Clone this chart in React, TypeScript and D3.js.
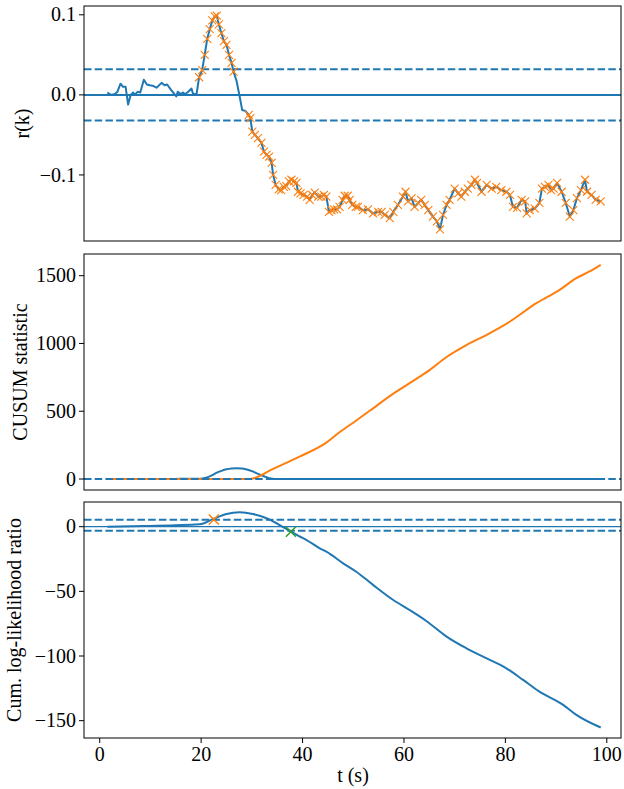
import React from "react";
import * as d3 from "d3";

// r(k) residual autocorrelation
const tR = [1.5, 2.2, 3, 3.5, 4.1, 4.6, 5.1, 5.6, 6.1, 6.6, 6.9, 7.5, 8, 8.7, 9.3, 9.9, 10.6, 11.2, 12.2, 12.8, 13.3, 14.1, 15.1, 15.4, 15.9, 16.4, 16.8, 17.3, 18.1, 18.4, 19.1,
  19.6, 20.2, 20.7, 21.2, 21.7, 22.2, 22.7, 23.1, 23.5, 24.0, 24.5, 25.0, 25.5, 26.0, 26.4, 27.0, 27.6, 28.1, 28.7,
  29.4, 29.7, 30.1, 30.6, 31.2, 31.9, 32.4, 32.9, 33.4, 33.9, 34.2, 34.7, 35.3, 35.8, 36.3, 36.8, 37.3, 37.8, 38.3, 38.8, 39.1, 39.6, 40.2, 40.9, 41.4, 41.9, 42.4, 43.1, 43.7, 44.2, 44.7, 45.2, 45.7, 46.2, 46.8, 47.3, 47.9, 48.3, 48.9, 49.3, 49.8, 50.5,
  50.9, 51.9, 52.9, 53.9, 54.9, 55.6, 56.2, 57.2, 57.9, 58.8, 59.8, 60.3, 60.8, 61.5, 62.1, 62.8, 63.4, 64.1, 64.8, 65.7, 66.5, 67.1, 67.7, 68.4, 69.0, 70.0, 70.7, 71.3, 72.0, 72.6, 73.3, 74.0, 74.4, 75.3, 76.3, 77.3, 78.2, 79.2, 80.2, 80.9, 81.5, 82.3, 83.2, 83.9, 84.2, 84.8, 85.8, 86.7, 87.2, 87.8, 88.5, 89.0, 89.5, 90.2, 91.1, 91.9, 92.7, 93.4, 94.1, 94.9, 95.7, 96.1, 97.0, 97.8, 98.8];
const rVals = [0.003, 0.0, 0.001, 0.004, 0.014, 0.01, 0.01, -0.012, 0.0, 0.003, 0.0, 0.004, 0.003, 0.019, 0.013, 0.012, 0.011, 0.009, 0.015, 0.012, 0.013, 0.006, -0.002, 0.004, 0.001, 0.003, 0.001, 0.003, 0.008, 0.001, 0.001,
  0.022, 0.031, 0.05, 0.07, 0.082, 0.093, 0.098, 0.099, 0.088, 0.077, 0.067, 0.0625, 0.05, 0.04, 0.029, 0.017, -0.002, -0.019, -0.02,
  -0.025, -0.029, -0.046, -0.05, -0.054, -0.06, -0.071, -0.075, -0.077, -0.085, -0.1, -0.1125, -0.118, -0.119, -0.115, -0.114, -0.108, -0.106, -0.108, -0.11, -0.121, -0.123, -0.125, -0.127, -0.131, -0.125, -0.122, -0.127, -0.127, -0.125, -0.127, -0.146, -0.144, -0.143, -0.143, -0.14, -0.131, -0.126, -0.126, -0.131, -0.1375, -0.14,
  -0.14, -0.144, -0.143, -0.148, -0.146, -0.146, -0.15, -0.154, -0.146, -0.1375, -0.127, -0.121, -0.133, -0.129, -0.14, -0.135, -0.131, -0.1375, -0.144, -0.152, -0.158, -0.168, -0.15, -0.1375, -0.131, -0.117, -0.123, -0.127, -0.121, -0.117, -0.1125, -0.106, -0.11, -0.121, -0.1125, -0.117, -0.115, -0.119, -0.121, -0.125, -0.14, -0.141, -0.131, -0.133, -0.148, -0.144, -0.142, -0.135, -0.117, -0.115, -0.1125, -0.119, -0.117, -0.11, -0.121, -0.135, -0.152, -0.144, -0.129, -0.119, -0.106, -0.121, -0.125, -0.131, -0.133];
const rThreshold = 0.032;
const alarmSpans = [[19.5, 26.5], [29.3, 99]];

// CUSUM statistics
const tCusumPos = [1.5, 10, 15, 19.7, 21, 22, 23, 24, 25, 26, 27, 28, 29, 30, 31, 32, 33, 34, 34.5, 60, 98.8];
const cusumPos = [0, 0, 1, 2, 10, 25, 45, 60, 72, 78, 80, 78, 70, 58, 42, 26, 12, 3, 0, 0, 0];
const tCusumNeg = [1.5, 29.6, 34.2, 39.4, 44.7, 47.3, 50.6, 53.3, 57.9, 61.1, 65.1, 68.4, 72.3, 76.3, 80.9, 86.1, 90.7, 94.0, 96.6, 98.8];
const cusumNeg = [0, 0, 75, 165, 268, 345, 432, 505, 630, 707, 805, 900, 988, 1064, 1162, 1297, 1396, 1482, 1531, 1580];

// cumulative log-likelihood ratio
const tLlr = [1.5, 8.9, 19.7, 22.4, 25, 27.6, 30.2, 32.9, 35.5, 37.7, 39.4, 40.8, 43.4, 44.7, 48.0, 50.6, 53.9, 57.9, 61.1, 64.4, 68.4, 72.3, 76.3, 80.2, 83.5, 86.5, 91.4, 94.0, 98.8];
const llr = [0, 0.5, 1.8, 6, 9.8, 11.1, 9.8, 6.5, 1.3, -3.9, -7.5, -10.3, -16.7, -19.3, -28.3, -34.8, -45, -56.7, -64.4, -72.9, -85, -94, -101.8, -109.5, -118.5, -127, -137.8, -145.5, -155.3];
const llrUpper = 5.4;
const llrLower = -3.1;
const llrHits = [{ t: 22.5, v: 5.6, c: "#ff7f0e" }, { t: 37.7, v: -3.9, c: "#2ca02c" }];

const xTicks = [0, 20, 40, 60, 80, 100];
const rTicks = [-0.1, 0, 0.1];
const cusumTicks = [0, 500, 1000, 1500];
const llrTicks = [-150, -100, -50, 0];

const BLUE = "#1f77b4";
const ORANGE = "#ff7f0e";
const FONT = "'Liberation Serif', 'DejaVu Serif', serif";
const FS = 20;
const L = 84, R = 621;

const x = d3.scaleLinear().domain([-3.1, 102.8]).range([L, R]);

const fmtMinus = (s: string) => s.replace("-", "\u2212");

function Cross({ cx, cy, color }: { cx: number; cy: number; color: string }) {
  const s = 4;
  return (
    <path d={`M${cx - s},${cy - s}L${cx + s},${cy + s}M${cx - s},${cy + s}L${cx + s},${cy - s}`}
      stroke={color} strokeWidth={1.1} fill="none" />
  );
}

function YAxis({ y, ticks, fmt, label, labelX }: any) {
  const [b, t] = y.range();
  return (
    <g fontFamily={FONT} fontSize={FS}>
      {ticks.map((v: number) => (
        <g key={v} transform={`translate(${L},${y(v)})`}>
          <line x1={-5} x2={0} stroke="#000" strokeWidth={1} />
          <text x={-8} dy="0.33em" textAnchor="end" fill="#000">{fmt(v)}</text>
        </g>
      ))}
      <text transform={`translate(${labelX},${(b + t) / 2}) rotate(-90)`} textAnchor="middle" fill="#000">{label}</text>
    </g>
  );
}

function Frame({ top, bottom }: { top: number; bottom: number }) {
  return <rect x={L} y={top} width={R - L} height={bottom - top} fill="none" stroke="#000" strokeWidth={1} />;
}

export default function App() {
  // panel 1
  const y1 = d3.scaleLinear().domain([-0.1825, 0.111]).range([241, 6]);
  const rPts = tR.map((t, i) => [t, rVals[i]] as [number, number]);
  const line1 = d3.line<[number, number]>().x((d) => x(d[0])).y((d) => y1(d[1]));
  const marked = rPts.filter(([t]) => alarmSpans.some(([a, b]) => t >= a && t <= b));

  // panel 2
  const y2 = d3.scaleLinear().domain([-81, 1660]).range([490, 254]);
  const pos = d3.line<number>().curve(d3.curveMonotoneX).x((_, i) => x(tCusumPos[i])).y((d) => y2(d))(cusumPos);
  const neg = d3.line<number>().curve(d3.curveMonotoneX).x((_, i) => x(tCusumNeg[i])).y((d) => y2(d))(cusumNeg);

  // panel 3
  const y3 = d3.scaleLinear().domain([-163.4, 19.1]).range([738, 502]);
  const llrPath = d3.line<number>().curve(d3.curveMonotoneX).x((_, i) => x(tLlr[i])).y((d) => y3(d))(llr);

  const dash = "7.5,3.2";

  return (
    <svg width={624} height={789} style={{ position: "absolute", left: 0, top: 0, background: "#fff" }}>
      {/* panel 1 */}
      <g>
        <line x1={L} x2={R} y1={y1(0)} y2={y1(0)} stroke={BLUE} strokeWidth={2} />
        <line x1={L} x2={R} y1={y1(rThreshold)} y2={y1(rThreshold)} stroke={BLUE} strokeWidth={2} strokeDasharray={dash} />
        <line x1={L} x2={R} y1={y1(-rThreshold)} y2={y1(-rThreshold)} stroke={BLUE} strokeWidth={2} strokeDasharray={dash} />
        <path d={line1(rPts) || ""} fill="none" stroke={BLUE} strokeWidth={2} strokeLinejoin="round" />
        {marked.map(([t, v], i) => <Cross key={i} cx={x(t)} cy={y1(v)} color={ORANGE} />)}
        <Frame top={6} bottom={241} />
        <YAxis y={y1} ticks={rTicks} fmt={(v: number) => fmtMinus(d3.format(".1f")(v))} label="r(k)" labelX={29} />
      </g>

      {/* panel 2 */}
      <g>
        <path d={pos || ""} fill="none" stroke={BLUE} strokeWidth={2} />
        <path d={neg || ""} fill="none" stroke={ORANGE} strokeWidth={2} />
        <line x1={L} x2={R} y1={y2(0)} y2={y2(0)} stroke={BLUE} strokeWidth={2} strokeDasharray={dash} />
        <Frame top={254} bottom={490} />
        <YAxis y={y2} ticks={cusumTicks} fmt={(v: number) => String(v)} label="CUSUM statistic" labelX={27} />
      </g>

      {/* panel 3 */}
      <g>
        <line x1={L} x2={R} y1={y3(0)} y2={y3(0)} stroke={BLUE} strokeWidth={1.2} />
        <line x1={L} x2={R} y1={y3(llrUpper)} y2={y3(llrUpper)} stroke={BLUE} strokeWidth={2} strokeDasharray={dash} />
        <line x1={L} x2={R} y1={y3(llrLower)} y2={y3(llrLower)} stroke={BLUE} strokeWidth={2} strokeDasharray={dash} />
        <path d={llrPath || ""} fill="none" stroke={BLUE} strokeWidth={2} />
        {llrHits.map((h, i) => (
          <path key={i} d={`M${x(h.t) - 5},${y3(h.v) - 5}L${x(h.t) + 5},${y3(h.v) + 5}M${x(h.t) - 5},${y3(h.v) + 5}L${x(h.t) + 5},${y3(h.v) - 5}`}
            stroke={h.c} strokeWidth={1.5} fill="none" />
        ))}
        <Frame top={502} bottom={738} />
        <YAxis y={y3} ticks={llrTicks} fmt={(v: number) => fmtMinus(String(v))} label="Cum. log-likelihood ratio" labelX={21} />
        <g fontFamily={FONT} fontSize={FS}>
          {xTicks.map((v) => (
            <g key={v} transform={`translate(${x(v)},738)`}>
              <line y1={0} y2={5} stroke="#000" strokeWidth={1} />
              <text y={23} textAnchor="middle" fill="#000">{v}</text>
            </g>
          ))}
          <text x={353} y={782} textAnchor="middle" fill="#000">t (s)</text>
        </g>
      </g>
    </svg>
  );
}
